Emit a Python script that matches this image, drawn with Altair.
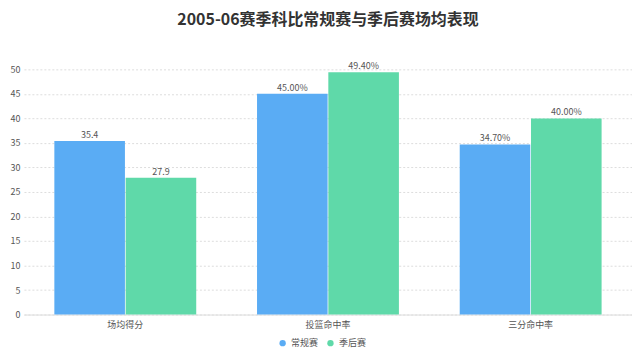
import altair as alt
import pandas as pd

categories = ["场均得分", "投篮命中率", "三分命中率"]
series = ["常规赛", "季后赛"]
regular = [35.4, 45.0, 34.7]
playoff = [27.9, 49.4, 40.0]
labels_regular = ["35.4", "45.00%", "34.70%"]
labels_playoff = ["27.9", "49.40%", "40.00%"]

rows = []
for i, c in enumerate(categories):
    rows.append({"cat": c, "series": series[0], "value": regular[i], "label": labels_regular[i]})
    rows.append({"cat": c, "series": series[1], "value": playoff[i], "label": labels_playoff[i]})
df = pd.DataFrame(rows)

FONT = "Noto Sans CJK SC"
colors = ["#5AACF4", "#5FD9A9"]

x = alt.X("cat:N", sort=categories, title=None,
          scale=alt.Scale(paddingInner=0.3, paddingOuter=0.15),
          axis=alt.Axis(labelAngle=0, labelColor="#555", labelFontSize=9, labelFont=FONT,
                        ticks=False, domainColor="#ddd", labelPadding=6))
xo = alt.XOffset("series:N", sort=series, scale=alt.Scale(paddingInner=0.01))
y = alt.Y("value:Q", title=None,
          scale=alt.Scale(domain=[0, 50], nice=False),
          axis=alt.Axis(values=list(range(0, 55, 5)), labelColor="#555", labelFontSize=9,
                        labelFont=FONT, ticks=False, domain=False, labelPadding=4,
                        gridColor="#ddd", gridDash=[2, 2]))

base = alt.Chart(df)
bars = base.mark_bar().encode(
    x=x, xOffset=xo, y=y,
    color=alt.Color("series:N", sort=series, scale=alt.Scale(domain=series, range=colors),
                    legend=alt.Legend(orient="none", legendX=255, legendY=270,
                                      direction="horizontal", title=None, symbolType="circle",
                                      symbolSize=40, labelFont=FONT, labelFontSize=9,
                                      labelColor="#555", columnPadding=7))
)
text = base.mark_text(dy=-6, fontSize=9, font=FONT, color="#555").encode(
    x=x, xOffset=xo, y=y, text="label:N"
)

chart = (bars + text).properties(
    width=610, height=246,
    padding={"left": 2, "right": 0, "top": 3, "bottom": 0},
    title=alt.TitleParams("2005-06赛季科比常规赛与季后赛场均表现", font=FONT, fontSize=16,
                          fontWeight="bold", color="#333", anchor="middle", offset=34),
).configure_view(stroke=None)

chart.save("out.html", embed_options={"renderer": "svg", "actions": False})
